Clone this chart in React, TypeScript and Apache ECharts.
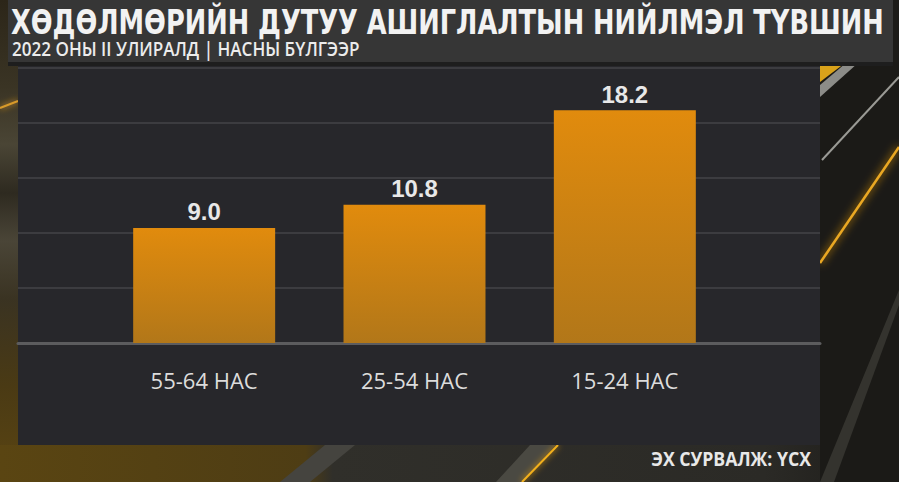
import React, { useEffect, useRef } from "react";
import * as echarts from "echarts";

const categories: string[] = ["55-64 НАС", "25-54 НАС", "15-24 НАС"];
const values: number[] = [9.0, 10.8, 18.2];
const yMin = 0;
const yMax = 21.5;
const yInterval = 4.3;

const titleText = "ХӨДӨЛМӨРИЙН ДУТУУ АШИГЛАЛТЫН НИЙЛМЭЛ ТҮВШИН";
const subtitleText = "2022 ОНЫ II УЛИРАЛД | НАСНЫ БҮЛГЭЭР";
const sourceText = "ЭХ СУРВАЛЖ: ҮСХ";

function fitScale(text: string, font: string, target: number): number {
  const c = document.createElement("canvas").getContext("2d");
  if (!c) return 1;
  c.font = font;
  const w = c.measureText(text).width;
  return w > 0 ? target / w : 1;
}

export default function App() {
  const ref = useRef<HTMLDivElement>(null);
  useEffect(() => {
    if (!ref.current) return;
    const chart = echarts.init(ref.current, null, { renderer: "svg" });

    const titleFont = 'bold 34px "DejaVu Sans Condensed"';
    const subFont = '600 19px "Open Sans"';
    const srcFont = 'bold 19px "Open Sans"';
    const titleScale = fitScale(titleText, titleFont, 873);
    const subScale = fitScale(subtitleText, subFont, 348);
    const srcScale = fitScale(sourceText, srcFont, 160);

    const bg = (el: any) => ({ ...el, z: -10, silent: true });

    chart.setOption({
      animation: false,
      backgroundColor: "#1c1b18",
      graphic: [
        bg({
          type: "rect",
          shape: { x: 0, y: 0, width: 18, height: 482 },
          style: {
            fill: new echarts.graphic.LinearGradient(0, 0, 0, 1, [
              { offset: 0, color: "#2c2619" },
              { offset: 0.18, color: "#3a3424" },
              { offset: 0.3, color: "#4a4535" },
              { offset: 0.4, color: "#2e2a20" },
              { offset: 0.5, color: "#4a4537" },
              { offset: 0.62, color: "#3a3322" },
              { offset: 0.8, color: "#4a3a14" },
              { offset: 1, color: "#5b4512" },
            ]),
          },
        }),
        bg({
          type: "line",
          shape: { x1: 0, y1: 108, x2: 18, y2: 101 },
          style: { stroke: "#d89a2a", lineWidth: 2, shadowBlur: 6, shadowColor: "#f0a020" },
        }),
        bg({
          type: "rect",
          shape: { x: 0, y: 445, width: 899, height: 37 },
          style: {
            fill: new echarts.graphic.LinearGradient(0, 0, 1, 0, [
              { offset: 0, color: "#5a4512" },
              { offset: 0.34, color: "#4e3d14" },
              { offset: 0.37, color: "#302f2a" },
              { offset: 0.85, color: "#2b2a26" },
              { offset: 1, color: "#1c1b18" },
            ]),
          },
        }),
        bg({
          type: "polygon",
          shape: { points: [[325, 445], [355, 445], [310, 482], [280, 482]] },
          style: { fill: "#45443f" },
        }),
        bg({
          type: "polygon",
          shape: { points: [[530, 445], [556, 445], [522, 482], [496, 482]] },
          style: { fill: "#4a4942" },
        }),
        bg({
          type: "line",
          shape: { x1: 558, y1: 445, x2: 522, y2: 482 },
          style: { stroke: "#f2b01e", lineWidth: 2, shadowBlur: 6, shadowColor: "#f0a000" },
        }),
        bg({
          type: "rect",
          shape: { x: 820, y: 62, width: 79, height: 420 },
          style: { fill: "#1b1a17" },
        }),
        bg({
          type: "polygon",
          shape: { points: [[820, 482], [834, 482], [899, 305], [899, 290]] },
          style: { fill: "#34332e" },
        }),
        bg({
          type: "polygon",
          shape: { points: [[820, 63], [845, 63], [820, 82]] },
          style: { fill: "#d9a21a" },
        }),
        bg({
          type: "polygon",
          shape: { points: [[820, 85], [846, 63], [858, 63], [820, 97]] },
          style: { fill: "#8c8c88" },
        }),
        bg({
          type: "line",
          shape: { x1: 822, y1: 160, x2: 899, y2: 77 },
          style: { stroke: "#9a9a95", lineWidth: 2 },
        }),
        bg({
          type: "line",
          shape: { x1: 820, y1: 263, x2: 899, y2: 147 },
          style: { stroke: "#eaa824", lineWidth: 2.5, shadowBlur: 8, shadowColor: "#f0a000" },
        }),
        bg({
          type: "rect",
          shape: { x: 8, y: 0, width: 885, height: 62 },
          style: { fill: "#363636" },
        }),
        bg({
          type: "rect",
          shape: { x: 8, y: 62, width: 885, height: 4 },
          style: { fill: "#1e1e1e" },
        }),
        bg({
          type: "rect",
          shape: { x: 18, y: 66, width: 802, height: 379 },
          style: { fill: "#27272b" },
        }),
        {
          type: "text",
          x: 11,
          y: 22,
          scaleX: titleScale,
          z: 10,
          style: {
            text: titleText,
            font: titleFont,
            fill: "#f2f2f2",
            textAlign: "left",
            textVerticalAlign: "middle",
            align: "left",
            verticalAlign: "middle",
          },
        },
        {
          type: "text",
          x: 12,
          y: 49,
          scaleX: subScale,
          z: 10,
          style: {
            text: subtitleText,
            font: subFont,
            fill: "#ececec",
            textAlign: "left",
            textVerticalAlign: "middle",
            align: "left",
            verticalAlign: "middle",
          },
        },
        {
          type: "text",
          x: 811,
          y: 458,
          scaleX: srcScale,
          z: 10,
          style: {
            text: sourceText,
            font: srcFont,
            fill: "#e8e8e8",
            textAlign: "right",
            textVerticalAlign: "middle",
            align: "right",
            verticalAlign: "middle",
          },
        },
      ],
      grid: [
        { left: 18, right: 79, top: 68, bottom: 139 },
        { left: 99, right: 169, top: 68, bottom: 139 },
      ],
      xAxis: [
        {
          type: "value",
          gridIndex: 0,
          min: 0,
          max: 1,
          axisLine: { show: true, onZero: false, lineStyle: { color: "#5c5c5e", width: 3 } },
          axisTick: { show: false },
          axisLabel: { show: false },
          splitLine: { show: false },
        },
        {
          type: "category",
          gridIndex: 1,
          data: categories,
          axisLine: { show: false },
          axisTick: { show: false },
          axisLabel: {
            color: "#dcdcdc",
            fontFamily: "Open Sans",
            fontSize: 22,
            margin: 26,
          },
        },
      ],
      yAxis: [
        {
          type: "value",
          gridIndex: 0,
          min: yMin,
          max: yMax,
          interval: yInterval,
          axisLine: { show: false },
          axisTick: { show: false },
          axisLabel: { show: false },
          splitLine: { show: true, lineStyle: { color: "#444448", width: 1.5 } },
        },
        {
          type: "value",
          gridIndex: 1,
          min: yMin,
          max: yMax,
          interval: yInterval,
          axisLine: { show: false },
          axisTick: { show: false },
          axisLabel: { show: false },
          splitLine: { show: false },
        },
      ],
      series: [
        {
          type: "bar",
          xAxisIndex: 1,
          yAxisIndex: 1,
          data: values,
          barWidth: "67.5%",
          itemStyle: {
            color: new echarts.graphic.LinearGradient(0, 0, 0, 1, [
              { offset: 0, color: "#e18b0d" },
              { offset: 1, color: "#b27719" },
            ]),
          },
          label: {
            show: true,
            position: "top",
            distance: 4,
            color: "#e8e8e8",
            fontFamily: "Liberation Sans",
            fontWeight: "bold",
            fontSize: 24,
            formatter: (p: any) => Number(p.value).toFixed(1),
          },
        },
      ],
    });

    return () => chart.dispose();
  }, []);

  return (
    <div
      ref={ref}
      style={{ position: "fixed", left: 0, top: 0, width: 899, height: 482 }}
    />
  );
}
